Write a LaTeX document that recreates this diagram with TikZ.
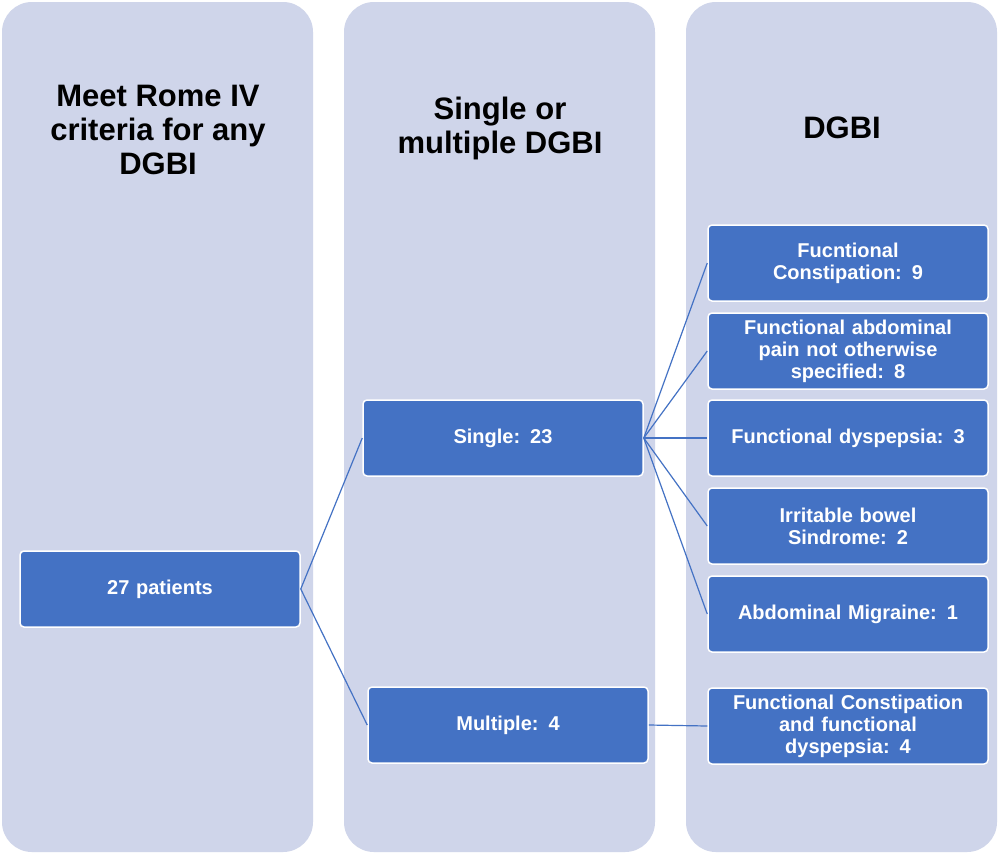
\documentclass[tikz,border=0pt]{standalone}
\usepackage{fontspec}
\setmainfont{Liberation Sans}
\definecolor{panel}{HTML}{CFD5EA}
\definecolor{boxb}{HTML}{4472C4}
\definecolor{lnb}{HTML}{4472C4}
\begin{document}
\begin{tikzpicture}[x=1pt,y=-1pt,
  panelbox/.style={fill=panel,draw=none,rounded corners=30pt},
  bx/.style={fill=boxb,draw=white,line width=1.5pt,rounded corners=4pt,minimum width=280pt,minimum height=76pt,text width=262pt,align=center,text=white,font=\bfseries\fontsize{20}{22}\selectfont,inner sep=2pt},
  hd/.style={align=center,font=\bfseries\fontsize{31}{34}\selectfont,text=black},
  ln/.style={draw=lnb,line width=1.2pt}]
\useasboundingbox (0,0) rectangle (1000,854);
\fill[white] (0,0) rectangle (1000,854);
\fill[panelbox] (2,2) rectangle (313,852);
\fill[panelbox] (344,2) rectangle (655,852);
\fill[panelbox] (686,2) rectangle (997,852);
\node[hd] (h1) at (158,130) {Meet Rome IV\\criteria for any\\DGBI};
\node[hd] (h2) at (500,128) {Single or\\multiple DGBI};
\node[hd] (h3) at (842,128) {DGBI};
\node[bx] (p) at (160,589) {27 patients};
\node[bx] (s) at (503,438) {Single: 23};
\node[bx] (m) at (508,725) {Multiple: 4};
\node[bx] (r1) at (848,263) {Fucntional\\Constipation: 9};
\node[bx] (r2) at (848,351) {Functional abdominal\\pain not otherwise\\specified: 8};
\node[bx] (r3) at (848,438) {Functional dyspepsia: 3};
\node[bx] (r4) at (848,526) {Irritable bowel\\Sindrome: 2};
\node[bx] (r5) at (848,614) {Abdominal Migraine: 1};
\node[bx] (r6) at (848,726) {Functional Constipation\\and functional\\dyspepsia: 4};
\draw[ln] (p.east) -- (s.west);
\draw[ln] (p.east) -- (m.west);
\foreach \r in {r1,r2,r3,r4,r5} \draw[ln] (s.east) -- (\r.west);
\draw[ln] (m.east) -- (r6.west);
\end{tikzpicture}
\end{document}
